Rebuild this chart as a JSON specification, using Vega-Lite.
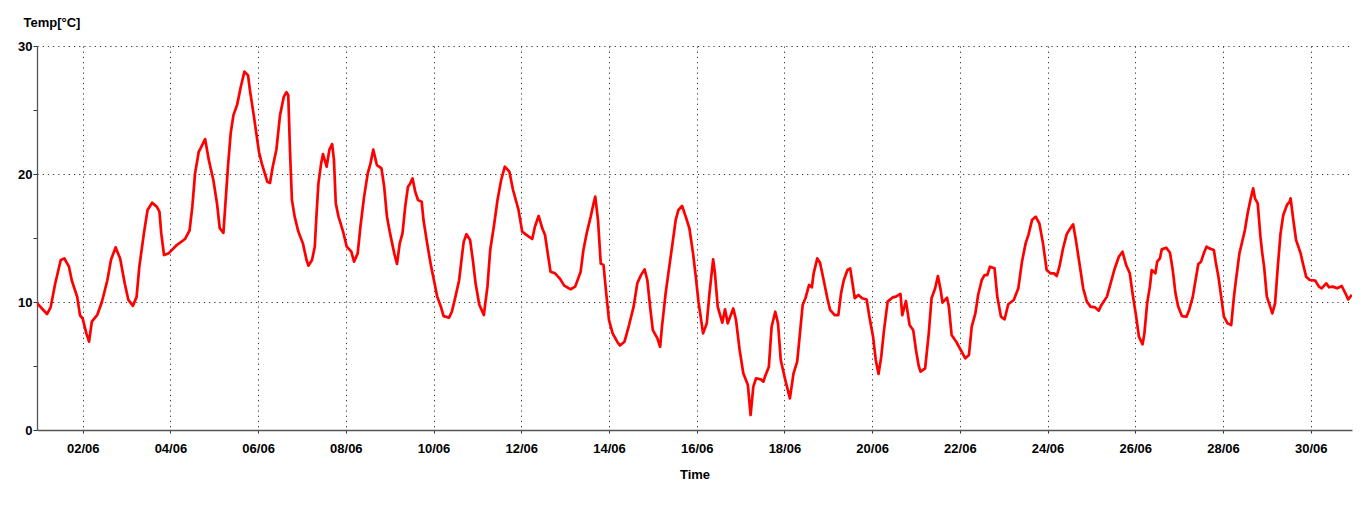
{
  "$schema": "https://vega.github.io/schema/vega-lite/v6.json",
  "autosize": "none",
  "width": 1315,
  "height": 384,
  "padding": {"left": 37, "top": 46, "right": 18, "bottom": 86},
  "background": "white",
  "config": {
    "font": "Liberation Sans",
    "view": {"stroke": null},
    "axis": {
      "labelFont": "Liberation Sans",
      "labelFontSize": 13,
      "labelFontWeight": "bold",
      "labelColor": "#000",
      "titleFont": "Liberation Sans",
      "titleFontSize": 13,
      "titleFontWeight": "bold",
      "titleColor": "#000",
      "domainColor": "#555",
      "domainWidth": 1.3,
      "tickColor": "#333",
      "tickSize": 4,
      "gridColor": "#333",
      "gridDash": [1.2, 4],
      "gridWidth": 1
    }
  },
  "data": {"values": [
    {"t":"2021-05-31T23:00","v":9.9},
    {"t":"2021-06-01T04:30","v":9.06},
    {"t":"2021-06-01T06:30","v":9.6},
    {"t":"2021-06-01T09:00","v":11.46},
    {"t":"2021-06-01T12:00","v":13.28},
    {"t":"2021-06-01T14:00","v":13.4},
    {"t":"2021-06-01T16:30","v":12.76},
    {"t":"2021-06-01T18:00","v":11.7},
    {"t":"2021-06-01T21:00","v":10.4},
    {"t":"2021-06-01T22:30","v":8.98},
    {"t":"2021-06-02T00:00","v":8.7},
    {"t":"2021-06-02T02:00","v":7.55},
    {"t":"2021-06-02T03:30","v":6.9},
    {"t":"2021-06-02T05:00","v":8.46},
    {"t":"2021-06-02T08:00","v":9.0},
    {"t":"2021-06-02T10:30","v":10.0},
    {"t":"2021-06-02T13:30","v":11.7},
    {"t":"2021-06-02T15:30","v":13.3},
    {"t":"2021-06-02T18:00","v":14.27},
    {"t":"2021-06-02T20:30","v":13.4},
    {"t":"2021-06-02T23:00","v":11.46},
    {"t":"2021-06-03T01:00","v":10.16},
    {"t":"2021-06-03T03:30","v":9.7},
    {"t":"2021-06-03T05:30","v":10.4},
    {"t":"2021-06-03T07:00","v":12.76},
    {"t":"2021-06-03T09:30","v":15.36},
    {"t":"2021-06-03T11:30","v":17.19},
    {"t":"2021-06-03T14:00","v":17.76},
    {"t":"2021-06-03T16:30","v":17.45},
    {"t":"2021-06-03T18:00","v":17.06},
    {"t":"2021-06-03T19:00","v":15.36},
    {"t":"2021-06-03T20:30","v":13.67},
    {"t":"2021-06-03T23:00","v":13.8},
    {"t":"2021-06-04T03:30","v":14.45},
    {"t":"2021-06-04T08:00","v":14.92},
    {"t":"2021-06-04T10:30","v":15.6},
    {"t":"2021-06-04T12:00","v":17.45},
    {"t":"2021-06-04T13:30","v":20.05},
    {"t":"2021-06-04T15:30","v":21.74},
    {"t":"2021-06-04T16:30","v":22.0},
    {"t":"2021-06-04T19:00","v":22.73},
    {"t":"2021-06-04T21:00","v":21.1},
    {"t":"2021-06-04T23:30","v":19.53},
    {"t":"2021-06-05T01:30","v":17.7},
    {"t":"2021-06-05T03:00","v":15.76},
    {"t":"2021-06-05T05:00","v":15.4},
    {"t":"2021-06-05T06:00","v":17.45},
    {"t":"2021-06-05T07:30","v":20.57},
    {"t":"2021-06-05T09:00","v":23.2},
    {"t":"2021-06-05T10:30","v":24.6},
    {"t":"2021-06-05T12:30","v":25.4},
    {"t":"2021-06-05T14:30","v":26.8},
    {"t":"2021-06-05T16:30","v":28.0},
    {"t":"2021-06-05T18:30","v":27.7},
    {"t":"2021-06-05T19:30","v":26.56},
    {"t":"2021-06-05T21:30","v":24.7},
    {"t":"2021-06-05T23:00","v":23.2},
    {"t":"2021-06-06T00:30","v":21.7},
    {"t":"2021-06-06T02:00","v":20.83},
    {"t":"2021-06-06T05:00","v":19.4},
    {"t":"2021-06-06T06:30","v":19.3},
    {"t":"2021-06-06T08:00","v":20.57},
    {"t":"2021-06-06T10:00","v":21.9},
    {"t":"2021-06-06T12:00","v":24.6},
    {"t":"2021-06-06T14:00","v":26.0},
    {"t":"2021-06-06T15:30","v":26.4},
    {"t":"2021-06-06T16:30","v":26.15},
    {"t":"2021-06-06T17:30","v":21.6},
    {"t":"2021-06-06T18:30","v":17.97},
    {"t":"2021-06-06T20:00","v":16.67},
    {"t":"2021-06-06T22:00","v":15.5},
    {"t":"2021-06-07T00:30","v":14.58},
    {"t":"2021-06-07T02:30","v":13.28},
    {"t":"2021-06-07T03:30","v":12.84},
    {"t":"2021-06-07T05:30","v":13.28},
    {"t":"2021-06-07T07:00","v":14.32},
    {"t":"2021-06-07T08:00","v":16.93},
    {"t":"2021-06-07T09:00","v":19.27},
    {"t":"2021-06-07T10:30","v":20.83},
    {"t":"2021-06-07T11:30","v":21.56},
    {"t":"2021-06-07T13:30","v":20.57},
    {"t":"2021-06-07T15:00","v":21.9},
    {"t":"2021-06-07T16:30","v":22.34},
    {"t":"2021-06-07T17:30","v":21.1},
    {"t":"2021-06-07T18:30","v":17.7},
    {"t":"2021-06-07T20:00","v":16.67},
    {"t":"2021-06-07T22:30","v":15.5},
    {"t":"2021-06-08T00:30","v":14.32},
    {"t":"2021-06-08T03:00","v":13.93},
    {"t":"2021-06-08T04:30","v":13.15},
    {"t":"2021-06-08T06:30","v":13.8},
    {"t":"2021-06-08T08:00","v":15.9},
    {"t":"2021-06-08T10:00","v":18.23},
    {"t":"2021-06-08T12:00","v":20.05},
    {"t":"2021-06-08T13:30","v":20.83},
    {"t":"2021-06-08T15:00","v":21.9},
    {"t":"2021-06-08T17:00","v":20.7},
    {"t":"2021-06-08T19:30","v":20.44},
    {"t":"2021-06-08T21:00","v":19.0},
    {"t":"2021-06-08T22:30","v":16.67},
    {"t":"2021-06-09T00:00","v":15.5},
    {"t":"2021-06-09T02:30","v":13.8},
    {"t":"2021-06-09T04:00","v":12.97},
    {"t":"2021-06-09T05:30","v":14.58},
    {"t":"2021-06-09T07:00","v":15.36},
    {"t":"2021-06-09T08:30","v":17.45},
    {"t":"2021-06-09T10:00","v":19.0},
    {"t":"2021-06-09T11:00","v":19.2},
    {"t":"2021-06-09T12:30","v":19.66},
    {"t":"2021-06-09T14:00","v":18.6},
    {"t":"2021-06-09T15:30","v":17.97},
    {"t":"2021-06-09T17:30","v":17.84},
    {"t":"2021-06-09T18:30","v":16.4},
    {"t":"2021-06-09T20:30","v":14.58},
    {"t":"2021-06-09T22:30","v":12.9},
    {"t":"2021-06-10T00:00","v":11.85},
    {"t":"2021-06-10T02:00","v":10.42},
    {"t":"2021-06-10T04:00","v":9.64},
    {"t":"2021-06-10T05:30","v":8.9},
    {"t":"2021-06-10T08:30","v":8.78},
    {"t":"2021-06-10T10:00","v":9.24},
    {"t":"2021-06-10T12:00","v":10.42},
    {"t":"2021-06-10T14:00","v":11.7},
    {"t":"2021-06-10T15:30","v":13.54},
    {"t":"2021-06-10T16:30","v":14.7},
    {"t":"2021-06-10T18:00","v":15.3},
    {"t":"2021-06-10T20:00","v":14.84},
    {"t":"2021-06-10T21:30","v":13.28},
    {"t":"2021-06-10T23:00","v":11.46},
    {"t":"2021-06-11T01:00","v":9.8},
    {"t":"2021-06-11T03:30","v":8.98},
    {"t":"2021-06-11T05:30","v":11.2},
    {"t":"2021-06-11T07:00","v":14.06},
    {"t":"2021-06-11T09:00","v":15.9},
    {"t":"2021-06-11T11:00","v":17.97},
    {"t":"2021-06-11T13:00","v":19.53},
    {"t":"2021-06-11T15:00","v":20.57},
    {"t":"2021-06-11T17:30","v":20.18},
    {"t":"2021-06-11T19:30","v":18.75},
    {"t":"2021-06-11T22:30","v":17.19},
    {"t":"2021-06-12T00:30","v":15.5},
    {"t":"2021-06-12T03:00","v":15.23},
    {"t":"2021-06-12T06:00","v":14.92},
    {"t":"2021-06-12T07:30","v":15.9},
    {"t":"2021-06-12T09:30","v":16.72},
    {"t":"2021-06-12T11:30","v":15.76},
    {"t":"2021-06-12T13:00","v":15.23},
    {"t":"2021-06-12T14:30","v":13.8},
    {"t":"2021-06-12T16:00","v":12.37},
    {"t":"2021-06-12T18:30","v":12.24},
    {"t":"2021-06-12T21:00","v":11.85},
    {"t":"2021-06-12T23:30","v":11.28},
    {"t":"2021-06-13T03:00","v":11.0},
    {"t":"2021-06-13T05:30","v":11.2},
    {"t":"2021-06-13T08:30","v":12.37},
    {"t":"2021-06-13T10:00","v":14.06},
    {"t":"2021-06-13T12:00","v":15.5},
    {"t":"2021-06-13T14:00","v":16.67},
    {"t":"2021-06-13T15:30","v":17.66},
    {"t":"2021-06-13T16:30","v":18.23},
    {"t":"2021-06-13T18:00","v":16.4},
    {"t":"2021-06-13T19:30","v":13.0},
    {"t":"2021-06-13T21:00","v":12.9},
    {"t":"2021-06-13T22:30","v":10.68},
    {"t":"2021-06-14T00:00","v":8.6},
    {"t":"2021-06-14T02:00","v":7.55},
    {"t":"2021-06-14T04:30","v":6.9},
    {"t":"2021-06-14T06:00","v":6.6},
    {"t":"2021-06-14T08:30","v":6.9},
    {"t":"2021-06-14T11:00","v":8.2},
    {"t":"2021-06-14T13:30","v":9.64},
    {"t":"2021-06-14T15:30","v":11.46},
    {"t":"2021-06-14T17:30","v":12.1},
    {"t":"2021-06-14T19:30","v":12.55},
    {"t":"2021-06-14T21:00","v":11.7},
    {"t":"2021-06-14T22:30","v":9.64},
    {"t":"2021-06-15T00:00","v":7.8},
    {"t":"2021-06-15T02:30","v":7.16},
    {"t":"2021-06-15T04:00","v":6.5},
    {"t":"2021-06-15T05:00","v":8.07},
    {"t":"2021-06-15T07:00","v":10.68},
    {"t":"2021-06-15T08:30","v":12.24},
    {"t":"2021-06-15T10:30","v":14.3},
    {"t":"2021-06-15T12:30","v":16.4},
    {"t":"2021-06-15T14:00","v":17.19},
    {"t":"2021-06-15T16:00","v":17.5},
    {"t":"2021-06-15T18:00","v":16.67},
    {"t":"2021-06-15T20:00","v":15.76},
    {"t":"2021-06-15T22:00","v":13.8},
    {"t":"2021-06-15T23:30","v":11.98},
    {"t":"2021-06-16T01:00","v":10.0},
    {"t":"2021-06-16T03:30","v":7.55},
    {"t":"2021-06-16T05:30","v":8.33},
    {"t":"2021-06-16T07:00","v":10.68},
    {"t":"2021-06-16T09:00","v":13.33},
    {"t":"2021-06-16T10:00","v":12.24},
    {"t":"2021-06-16T11:30","v":9.64},
    {"t":"2021-06-16T14:00","v":8.39},
    {"t":"2021-06-16T15:30","v":9.43},
    {"t":"2021-06-16T17:00","v":8.33},
    {"t":"2021-06-16T20:00","v":9.5},
    {"t":"2021-06-16T21:30","v":8.6},
    {"t":"2021-06-16T23:30","v":6.25},
    {"t":"2021-06-17T01:30","v":4.43},
    {"t":"2021-06-17T04:00","v":3.52},
    {"t":"2021-06-17T05:30","v":1.17},
    {"t":"2021-06-17T07:00","v":3.39},
    {"t":"2021-06-17T08:30","v":4.04},
    {"t":"2021-06-17T11:00","v":3.96},
    {"t":"2021-06-17T12:30","v":3.78},
    {"t":"2021-06-17T13:30","v":4.22},
    {"t":"2021-06-17T15:30","v":4.95},
    {"t":"2021-06-17T17:00","v":8.07},
    {"t":"2021-06-17T19:00","v":9.24},
    {"t":"2021-06-17T20:30","v":8.33},
    {"t":"2021-06-17T22:00","v":5.47},
    {"t":"2021-06-18T00:30","v":3.9},
    {"t":"2021-06-18T03:00","v":2.47},
    {"t":"2021-06-18T05:00","v":4.43},
    {"t":"2021-06-18T07:00","v":5.34},
    {"t":"2021-06-18T08:30","v":7.55},
    {"t":"2021-06-18T10:00","v":9.77},
    {"t":"2021-06-18T11:30","v":10.29},
    {"t":"2021-06-18T13:30","v":11.33},
    {"t":"2021-06-18T15:00","v":11.15},
    {"t":"2021-06-18T16:00","v":12.24},
    {"t":"2021-06-18T18:00","v":13.41},
    {"t":"2021-06-18T19:30","v":13.07},
    {"t":"2021-06-18T21:30","v":11.7},
    {"t":"2021-06-18T23:30","v":10.29},
    {"t":"2021-06-19T01:00","v":9.38},
    {"t":"2021-06-19T03:30","v":8.98},
    {"t":"2021-06-19T05:30","v":8.98},
    {"t":"2021-06-19T07:00","v":10.68},
    {"t":"2021-06-19T08:30","v":11.7},
    {"t":"2021-06-19T10:30","v":12.5},
    {"t":"2021-06-19T12:00","v":12.63},
    {"t":"2021-06-19T13:00","v":11.7},
    {"t":"2021-06-19T14:30","v":10.29},
    {"t":"2021-06-19T16:30","v":10.55},
    {"t":"2021-06-19T18:30","v":10.29},
    {"t":"2021-06-19T21:00","v":10.2},
    {"t":"2021-06-19T22:30","v":8.85},
    {"t":"2021-06-20T00:30","v":7.3},
    {"t":"2021-06-20T02:00","v":5.47},
    {"t":"2021-06-20T03:30","v":4.38},
    {"t":"2021-06-20T05:00","v":5.73},
    {"t":"2021-06-20T06:30","v":7.8},
    {"t":"2021-06-20T08:30","v":10.03},
    {"t":"2021-06-20T11:00","v":10.34},
    {"t":"2021-06-20T13:00","v":10.42},
    {"t":"2021-06-20T15:30","v":10.63},
    {"t":"2021-06-20T16:30","v":8.98},
    {"t":"2021-06-20T18:30","v":10.08},
    {"t":"2021-06-20T20:30","v":8.2},
    {"t":"2021-06-20T22:30","v":7.8},
    {"t":"2021-06-21T00:00","v":6.25},
    {"t":"2021-06-21T01:30","v":5.0},
    {"t":"2021-06-21T02:30","v":4.56},
    {"t":"2021-06-21T05:00","v":4.82},
    {"t":"2021-06-21T07:00","v":7.55},
    {"t":"2021-06-21T08:30","v":10.29},
    {"t":"2021-06-21T10:30","v":11.07},
    {"t":"2021-06-21T12:00","v":12.03},
    {"t":"2021-06-21T13:30","v":10.94},
    {"t":"2021-06-21T14:30","v":9.95},
    {"t":"2021-06-21T17:00","v":10.34},
    {"t":"2021-06-21T18:00","v":9.64},
    {"t":"2021-06-21T19:30","v":7.42},
    {"t":"2021-06-21T22:00","v":6.9},
    {"t":"2021-06-22T00:30","v":6.25},
    {"t":"2021-06-22T03:00","v":5.6},
    {"t":"2021-06-22T05:00","v":5.86},
    {"t":"2021-06-22T06:30","v":8.07},
    {"t":"2021-06-22T08:30","v":9.11},
    {"t":"2021-06-22T10:00","v":10.55},
    {"t":"2021-06-22T12:00","v":11.72},
    {"t":"2021-06-22T13:30","v":12.1},
    {"t":"2021-06-22T15:00","v":12.1},
    {"t":"2021-06-22T16:30","v":12.76},
    {"t":"2021-06-22T19:00","v":12.63},
    {"t":"2021-06-22T20:30","v":10.42},
    {"t":"2021-06-22T22:30","v":8.85},
    {"t":"2021-06-23T00:30","v":8.65},
    {"t":"2021-06-23T02:30","v":9.82},
    {"t":"2021-06-23T05:30","v":10.16},
    {"t":"2021-06-23T08:00","v":11.07},
    {"t":"2021-06-23T10:00","v":13.15},
    {"t":"2021-06-23T12:00","v":14.58},
    {"t":"2021-06-23T13:30","v":15.23},
    {"t":"2021-06-23T15:30","v":16.4},
    {"t":"2021-06-23T17:30","v":16.67},
    {"t":"2021-06-23T19:30","v":16.15},
    {"t":"2021-06-23T21:30","v":14.58},
    {"t":"2021-06-23T23:30","v":12.5},
    {"t":"2021-06-24T01:30","v":12.24},
    {"t":"2021-06-24T03:30","v":12.24},
    {"t":"2021-06-24T05:00","v":12.03},
    {"t":"2021-06-24T06:30","v":12.76},
    {"t":"2021-06-24T08:30","v":14.2},
    {"t":"2021-06-24T10:30","v":15.3},
    {"t":"2021-06-24T12:30","v":15.76},
    {"t":"2021-06-24T14:00","v":16.07},
    {"t":"2021-06-24T15:30","v":14.84},
    {"t":"2021-06-24T18:00","v":12.5},
    {"t":"2021-06-24T19:30","v":11.07},
    {"t":"2021-06-24T21:30","v":10.03},
    {"t":"2021-06-24T23:30","v":9.64},
    {"t":"2021-06-25T02:00","v":9.58},
    {"t":"2021-06-25T04:00","v":9.32},
    {"t":"2021-06-25T05:30","v":9.77},
    {"t":"2021-06-25T08:30","v":10.42},
    {"t":"2021-06-25T10:30","v":11.46},
    {"t":"2021-06-25T12:30","v":12.5},
    {"t":"2021-06-25T15:00","v":13.54},
    {"t":"2021-06-25T17:00","v":13.93},
    {"t":"2021-06-25T19:00","v":12.89},
    {"t":"2021-06-25T21:00","v":12.24},
    {"t":"2021-06-25T22:30","v":10.68},
    {"t":"2021-06-26T00:30","v":8.85},
    {"t":"2021-06-26T02:00","v":7.3},
    {"t":"2021-06-26T04:00","v":6.69},
    {"t":"2021-06-26T05:00","v":7.55},
    {"t":"2021-06-26T06:30","v":9.9},
    {"t":"2021-06-26T08:00","v":11.2},
    {"t":"2021-06-26T09:00","v":12.5},
    {"t":"2021-06-26T11:00","v":12.24},
    {"t":"2021-06-26T12:00","v":13.15},
    {"t":"2021-06-26T13:30","v":13.41},
    {"t":"2021-06-26T14:30","v":14.11},
    {"t":"2021-06-26T17:00","v":14.24},
    {"t":"2021-06-26T19:00","v":13.85},
    {"t":"2021-06-26T20:30","v":12.5},
    {"t":"2021-06-26T22:00","v":10.68},
    {"t":"2021-06-26T23:30","v":9.64},
    {"t":"2021-06-27T01:30","v":8.9},
    {"t":"2021-06-27T04:00","v":8.85},
    {"t":"2021-06-27T05:30","v":9.38},
    {"t":"2021-06-27T07:30","v":10.42},
    {"t":"2021-06-27T09:00","v":11.72},
    {"t":"2021-06-27T10:30","v":12.97},
    {"t":"2021-06-27T12:00","v":13.15},
    {"t":"2021-06-27T13:30","v":13.8},
    {"t":"2021-06-27T15:00","v":14.32},
    {"t":"2021-06-27T16:30","v":14.19},
    {"t":"2021-06-27T19:00","v":14.06},
    {"t":"2021-06-27T20:00","v":13.15},
    {"t":"2021-06-27T21:30","v":11.98},
    {"t":"2021-06-27T23:00","v":10.42},
    {"t":"2021-06-28T00:30","v":8.85},
    {"t":"2021-06-28T02:30","v":8.33},
    {"t":"2021-06-28T04:30","v":8.2},
    {"t":"2021-06-28T06:00","v":10.42},
    {"t":"2021-06-28T07:00","v":11.59},
    {"t":"2021-06-28T09:00","v":13.8},
    {"t":"2021-06-28T10:30","v":14.71},
    {"t":"2021-06-28T12:00","v":15.63},
    {"t":"2021-06-28T13:30","v":16.93},
    {"t":"2021-06-28T15:00","v":17.97},
    {"t":"2021-06-28T16:30","v":18.88},
    {"t":"2021-06-28T17:30","v":18.1},
    {"t":"2021-06-28T19:00","v":17.71},
    {"t":"2021-06-28T20:30","v":15.1},
    {"t":"2021-06-28T21:30","v":13.8},
    {"t":"2021-06-28T22:30","v":12.76},
    {"t":"2021-06-29T00:00","v":10.42},
    {"t":"2021-06-29T01:30","v":9.77},
    {"t":"2021-06-29T03:00","v":9.11},
    {"t":"2021-06-29T04:30","v":9.9},
    {"t":"2021-06-29T06:00","v":12.76},
    {"t":"2021-06-29T07:30","v":15.36},
    {"t":"2021-06-29T09:00","v":16.8},
    {"t":"2021-06-29T11:00","v":17.58},
    {"t":"2021-06-29T12:30","v":17.84},
    {"t":"2021-06-29T13:00","v":18.1},
    {"t":"2021-06-29T14:30","v":16.4},
    {"t":"2021-06-29T16:00","v":14.84},
    {"t":"2021-06-29T18:30","v":13.8},
    {"t":"2021-06-29T19:30","v":13.15},
    {"t":"2021-06-29T21:30","v":11.98},
    {"t":"2021-06-29T23:30","v":11.72},
    {"t":"2021-06-30T02:30","v":11.67},
    {"t":"2021-06-30T04:30","v":11.2},
    {"t":"2021-06-30T06:00","v":11.07},
    {"t":"2021-06-30T08:30","v":11.46},
    {"t":"2021-06-30T10:00","v":11.15},
    {"t":"2021-06-30T12:00","v":11.2},
    {"t":"2021-06-30T14:30","v":11.07},
    {"t":"2021-06-30T17:00","v":11.25},
    {"t":"2021-06-30T19:00","v":10.68},
    {"t":"2021-06-30T20:30","v":10.2},
    {"t":"2021-06-30T22:30","v":10.55}
  ]},
  "mark": {"type": "line", "color": "#ff0000", "strokeWidth": 2.7, "strokeJoin": "round", "clip": true, "interpolate": "linear"},
  "encoding": {
    "x": {
      "field": "t",
      "type": "temporal",
      "title": "Time",
      "scale": {"domain": [
        {"year": 2021, "month": 5, "date": 31, "hours": 23, "minutes": 0},
        {"year": 2021, "month": 6, "date": 30, "hours": 22, "minutes": 36}
      ]},
      "axis": {
        "format": "%d/%m",
        "grid": true,
        "values": [
          {"year": 2021, "month": 6, "date": 2},
          {"year": 2021, "month": 6, "date": 4},
          {"year": 2021, "month": 6, "date": 6},
          {"year": 2021, "month": 6, "date": 8},
          {"year": 2021, "month": 6, "date": 10},
          {"year": 2021, "month": 6, "date": 12},
          {"year": 2021, "month": 6, "date": 14},
          {"year": 2021, "month": 6, "date": 16},
          {"year": 2021, "month": 6, "date": 18},
          {"year": 2021, "month": 6, "date": 20},
          {"year": 2021, "month": 6, "date": 22},
          {"year": 2021, "month": 6, "date": 24},
          {"year": 2021, "month": 6, "date": 26},
          {"year": 2021, "month": 6, "date": 28},
          {"year": 2021, "month": 6, "date": 30}
        ],
        "tickSize": 3,
        "labelPadding": 9,
        "labelFlush": false,
        "labelOverlap": false,
        "titlePadding": 13
      }
    },
    "y": {
      "field": "v",
      "type": "quantitative",
      "scale": {"domain": [0, 30], "nice": false, "zero": true},
      "axis": {
        "title": "Temp[°C]",
        "titleAngle": 0,
        "titleAlign": "left",
        "titleBaseline": "middle",
        "titleX": -14,
        "titleY": -24,
        "values": [0, 5, 10, 15, 20, 25, 30],
        "labelExpr": "datum.value % 10 === 0 ? datum.label : ''",
        "grid": true,
        "gridOpacity": {"condition": {"test": "datum.value % 10 === 0 && datum.value > 0", "value": 1}, "value": 0},
        "tickSize": 4,
        "labelPadding": 1,
        "labelFlush": false,
        "labelOverlap": false
      }
    }
  }
}
